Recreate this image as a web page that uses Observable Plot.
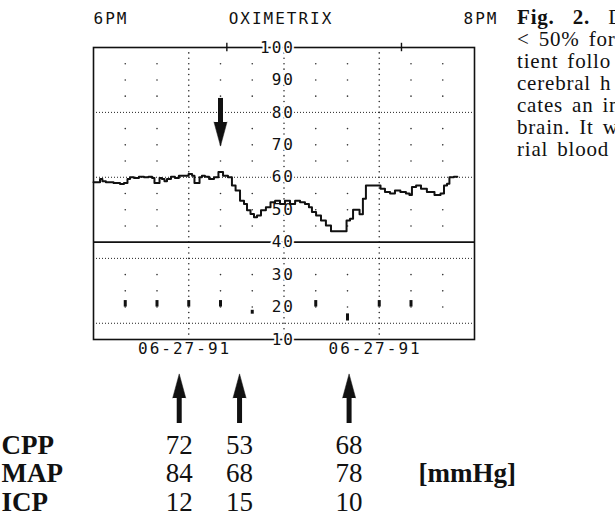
<!DOCTYPE html>
<html>
<head>
<meta charset="utf-8">
<script src="https://cdn.jsdelivr.net/npm/d3@7"></script>
<script src="https://cdn.jsdelivr.net/npm/@observablehq/plot@0.6"></script>
<style>
  html, body { margin: 0; padding: 0; background: #fff; overflow: hidden; }
  #wrap { position: relative; width: 615px; height: 522px; }
  #caption { position: absolute; left: 517px; top: 6px; font-family: "Liberation Serif", serif; font-size: 21px; line-height: 22px; letter-spacing: 0.8px; white-space: nowrap; color: #111; word-spacing: 3px; }
  svg g[font-family="DejaVu Sans Mono"] { letter-spacing: 2px; }
</style>
</head>
<body>
<div id="wrap"><div id="chart"></div><div id="caption"></div></div>
<script>
// ---- data (minutes after 6PM, saturation %) ----
const traceTimes = [0,1.6,2.5,3.1,4.7,7.9,8.8,10.4,11.0,12.0,13.5,15.1,16.7,18.0,18.9,19.5,20.5,21.1,22.0,22.7,23.6,25.2,26.1,27.7,29.3,30.6,31.5,32.1,33.1,33.7,34.6,35.6,37.2,38.7,40.0,41.6,43.1,44.1,45.4,46.9,47.9,48.8,50.1,51.0,52.0,53.5,55.1,56.4,58.0,59.5,61.1,62.7,64.3,65.8,67.4,68.3,69.3,70.9,72.4,74.0,75.6,79.4,80.0,81.6,81.9,83.5,84.1,84.7,85.0,86.6,89.8,91.0,92.6,94.2,95.7,97.6,99.2,99.8,100.8,102.4,103.9,106.1,108.7,109.9,110.9,111.8,112.4,114.6];
const traceValues = [58.5,58.5,59.5,58.8,58.5,58.2,57.9,58.2,59.5,60.0,59.8,60.2,60.0,60.2,59.8,58.2,58.2,59.8,59.5,58.8,59.5,60.2,59.8,60.5,60.5,61.0,60.5,58.2,58.2,60.0,60.5,60.2,59.5,60.0,61.6,60.5,60.0,57.5,55.9,52.8,51.8,49.8,48.7,47.7,48.2,49.8,50.8,52.3,52.8,51.8,52.8,51.8,52.8,52.3,51.8,50.8,49.3,48.2,46.7,45.1,43.4,43.4,46.7,47.2,50.0,50.0,48.6,48.6,53.4,57.5,57.5,56.5,55.5,55.0,55.9,55.5,55.0,54.5,57.0,57.5,56.5,55.5,54.5,55.0,57.5,58.0,60.0,60.2];
const icpTimes = [10,20,30,40,50,70,80,90,100];
const icpLow  = [20,20,20,20,17.8,20,15.7,20,20];
const icpHigh = [22,22,22,22,19.0,22,17.9,22,22];
const yTicks = [100,90,80,70,60,50,40,30,20,10];
const dottedLevels = [80,60,35,15];
const solidLevels = [40];
const topTicks = [42,97];
const gridCols = [10,20,30,40,50,60,70,80,90,100,110];
const denseCols = [30,60,90];
const gridRows = [95,90,85,75,70,65,55,50,45,30,25,20];
const eventTimes = [40];
const measureTimes = [27,46,80.5];
const rowLabels = ["CPP","MAP","ICP"];
const cpp = [72,53,68];
const map = [84,68,78];
const icp = [12,15,10];
const unitLabel = "[mmHg]";
const dateLabels = ["06-27-91","06-27-91"];
const dateTimes = [28.7,88.7];
const timeLabels = ["6PM","8PM"];
const deviceLabel = "OXIMETRIX";
const captionLines = ["<b>Fig.&nbsp;&nbsp;2.</b>&nbsp; D","&lt; 50% for","tient follo","cerebral h","cates an in","brain. It w","rial blood"];

// ---- derived tables ----
const trace = traceTimes.map((t, i) => ({t, v: traceValues[i]}));
const icpBars = icpTimes.map((t, i) => ({t, lo: icpLow[i], hi: icpHigh[i]}));
const gridDots = [];
for (const c of gridCols) {
  if (denseCols.includes(c)) {
    for (const v of d3.range(11 + 2/3, 100, 5/3)) gridDots.push({t: c, v});
  } else {
    for (const v of gridRows) gridDots.push({t: c, v});
  }
}
const rowValues = [cpp, map, icp];
const rowY = i => -22.5 - i * 8.8;
const cells = [];
rowValues.forEach((vals, i) => vals.forEach((v, j) => cells.push({t: measureTimes[j], y: rowY(i), text: String(v)})));

const mono = "DejaVu Sans Mono";
const serif = "Liberation Serif";

const chart = Plot.plot({
  width: 615,
  height: 522,
  marginLeft: 93,
  marginRight: 141,
  marginTop: 47,
  marginBottom: 183,
  x: {domain: [0, 120], axis: null},
  y: {domain: [10, 100], axis: null},
  style: {background: "white", overflow: "visible"},
  marks: [
    Plot.dot(gridDots, {x: "t", y: "v", r: 0.8, fill: "#333", stroke: null}),
    Plot.ruleY(dottedLevels, {stroke: "#222", strokeWidth: 1, strokeDasharray: "1,2"}),
    Plot.ruleY(solidLevels, {stroke: "#111", strokeWidth: 1.6}),
    Plot.frame({stroke: "#111", strokeWidth: 1.6}),
    Plot.ruleX(topTicks, {y1: 98.7, y2: 101.3, stroke: "#111", strokeWidth: 1.4}),
    Plot.text(yTicks, {x: () => 60, y: d => d, text: d => String(d), textAnchor: "end", dx: 11, fontFamily: mono, fontSize: 16, fill: "#111", stroke: "white", strokeWidth: 4}),
    Plot.ruleX(icpBars, {x: "t", y1: "lo", y2: "hi", stroke: "#111", strokeWidth: 3}),
    Plot.line(trace, {x: "t", y: "v", curve: "step", stroke: "#111", strokeWidth: 2}),
    // event arrow (down)
    Plot.ruleX(eventTimes, {y1: 84.3, y2: 76.5, stroke: "#111", strokeWidth: 5}),
    Plot.vector(eventTimes, {x: d => d, y: () => 77, length: 24, rotate: 180, r: 6.5, shape: "spike", anchor: "start", fill: "#111", stroke: "#111", strokeWidth: 0.5}),
    // measurement arrows (up)
    Plot.ruleX(measureTimes, {y1: -15.9, y2: -7.5, stroke: "#111", strokeWidth: 5}),
    Plot.vector(measureTimes, {x: d => d, y: () => -8, length: 24, rotate: 0, r: 6.5, shape: "spike", anchor: "start", fill: "#111", stroke: "#111", strokeWidth: 0.5}),
    // header texts
    Plot.text([timeLabels[0]], {x: () => 0, y: () => 108.8, text: d => d, textAnchor: "start", fontFamily: mono, fontSize: 16, fill: "#111"}),
    Plot.text([timeLabels[1]], {x: () => 120, y: () => 108.8, text: d => d, textAnchor: "start", dx: -11, fontFamily: mono, fontSize: 16, fill: "#111"}),
    Plot.text([deviceLabel], {x: () => 60, y: () => 108.8, text: d => d, textAnchor: "middle", dx: -3, fontFamily: mono, fontSize: 16, fill: "#111"}),
    Plot.text(dateLabels, {x: (d, i) => dateTimes[i], y: () => 7.1, text: d => d, textAnchor: "middle", fontFamily: mono, fontSize: 16, fill: "#111"}),
    // table below
    Plot.text(rowLabels, {frameAnchor: "left", dx: -92, y: (d, i) => rowY(i), text: d => d, textAnchor: "start", fontFamily: serif, fontWeight: "bold", fontSize: 27, fill: "#111"}),
    Plot.text(cells, {x: "t", y: "y", text: "text", textAnchor: "middle", fontFamily: serif, fontSize: 27, fill: "#111"}),
    Plot.text([unitLabel], {x: () => 102.4, y: () => rowY(1), text: d => d, textAnchor: "start", fontFamily: serif, fontWeight: "bold", fontSize: 27, fill: "#111"})
  ]
});
document.getElementById("chart").appendChild(chart);
document.getElementById("caption").innerHTML = captionLines.join("<br>");
</script>
</body>
</html>
